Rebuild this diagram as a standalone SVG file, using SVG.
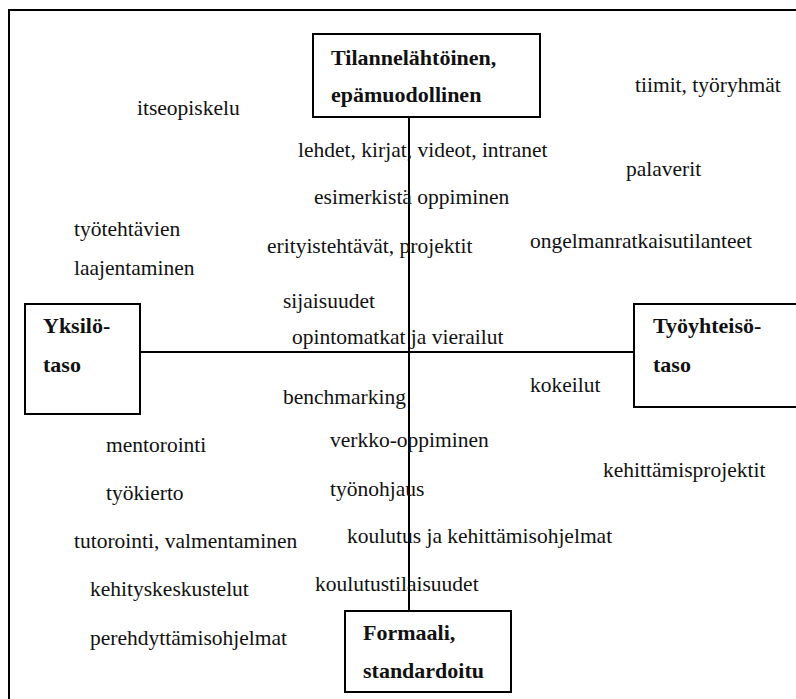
<svg xmlns="http://www.w3.org/2000/svg" width="796" height="699" viewBox="0 0 796 699" font-family="serif">
<style>
.nodebox{fill:#fff;stroke:#000;stroke-width:2}
.axis{fill:none;stroke:#000;stroke-width:2}
</style>
<rect width="796" height="699" fill="#fff"/>
<path d="M9,699 V10 H796" fill="none" stroke="#000" stroke-width="2"/>
<g id="connectors">
<line class="axis" x1="409" y1="113" x2="409" y2="617"/>
<line class="axis" x1="140" y1="352" x2="634" y2="352"/>
</g>
<g id="node-tilannelahtoinen" font-family="Liberation Serif, serif" font-size="22" font-weight="bold" fill="#111">
<rect class="nodebox" x="313" y="34" width="227" height="83"/>
<text x="331" y="65">Tilannelähtöinen,</text>
<text x="331" y="102">epämuodollinen</text>
</g>
<g id="node-yksilotaso" font-family="Liberation Serif, serif" font-size="22" font-weight="bold" fill="#111">
<rect class="nodebox" x="25" y="304" width="115" height="110"/>
<text x="43" y="333">Yksilö-</text>
<text x="43" y="372">taso</text>
</g>
<g id="node-tyoyhteisotaso" font-family="Liberation Serif, serif" font-size="22" font-weight="bold" fill="#111">
<rect class="nodebox" x="634" y="304" width="200" height="103"/>
<text x="653" y="333">Työyhteisö-</text>
<text x="653" y="372">taso</text>
</g>
<g id="node-formaali" font-family="Liberation Serif, serif" font-size="22" font-weight="bold" fill="#111">
<rect class="nodebox" x="345" y="611" width="166" height="81"/>
<text x="363" y="640">Formaali,</text>
<text x="363" y="678">standardoitu</text>
</g>
<g id="labels" font-family="Liberation Serif, serif" font-size="21.5" fill="#111">
<text x="137" y="115">itseopiskelu</text>
<text x="635" y="92">tiimit, työryhmät</text>
<text x="298" y="157">lehdet, kirjat, videot, intranet</text>
<text x="626" y="176">palaverit</text>
<text x="314" y="204">esimerkistä oppiminen</text>
<text x="74" y="236">työtehtävien</text>
<text x="74" y="275">laajentaminen</text>
<text x="267" y="253">erityistehtävät, projektit</text>
<text x="530" y="248">ongelmanratkaisutilanteet</text>
<text x="283" y="308">sijaisuudet</text>
<text x="292" y="344">opintomatkat ja vierailut</text>
<text x="530" y="392">kokeilut</text>
<text x="283" y="404">benchmarking</text>
<text x="106" y="452">mentorointi</text>
<text x="330" y="447">verkko-oppiminen</text>
<text x="603" y="477">kehittämisprojektit</text>
<text x="106" y="500">työkierto</text>
<text x="330" y="496">työnohjaus</text>
<text x="74" y="548">tutorointi, valmentaminen</text>
<text x="347" y="543">koulutus ja kehittämisohjelmat</text>
<text x="90" y="596">kehityskeskustelut</text>
<text x="315" y="591">koulutustilaisuudet</text>
<text x="90" y="645">perehdyttämisohjelmat</text>
</g>
</svg>
